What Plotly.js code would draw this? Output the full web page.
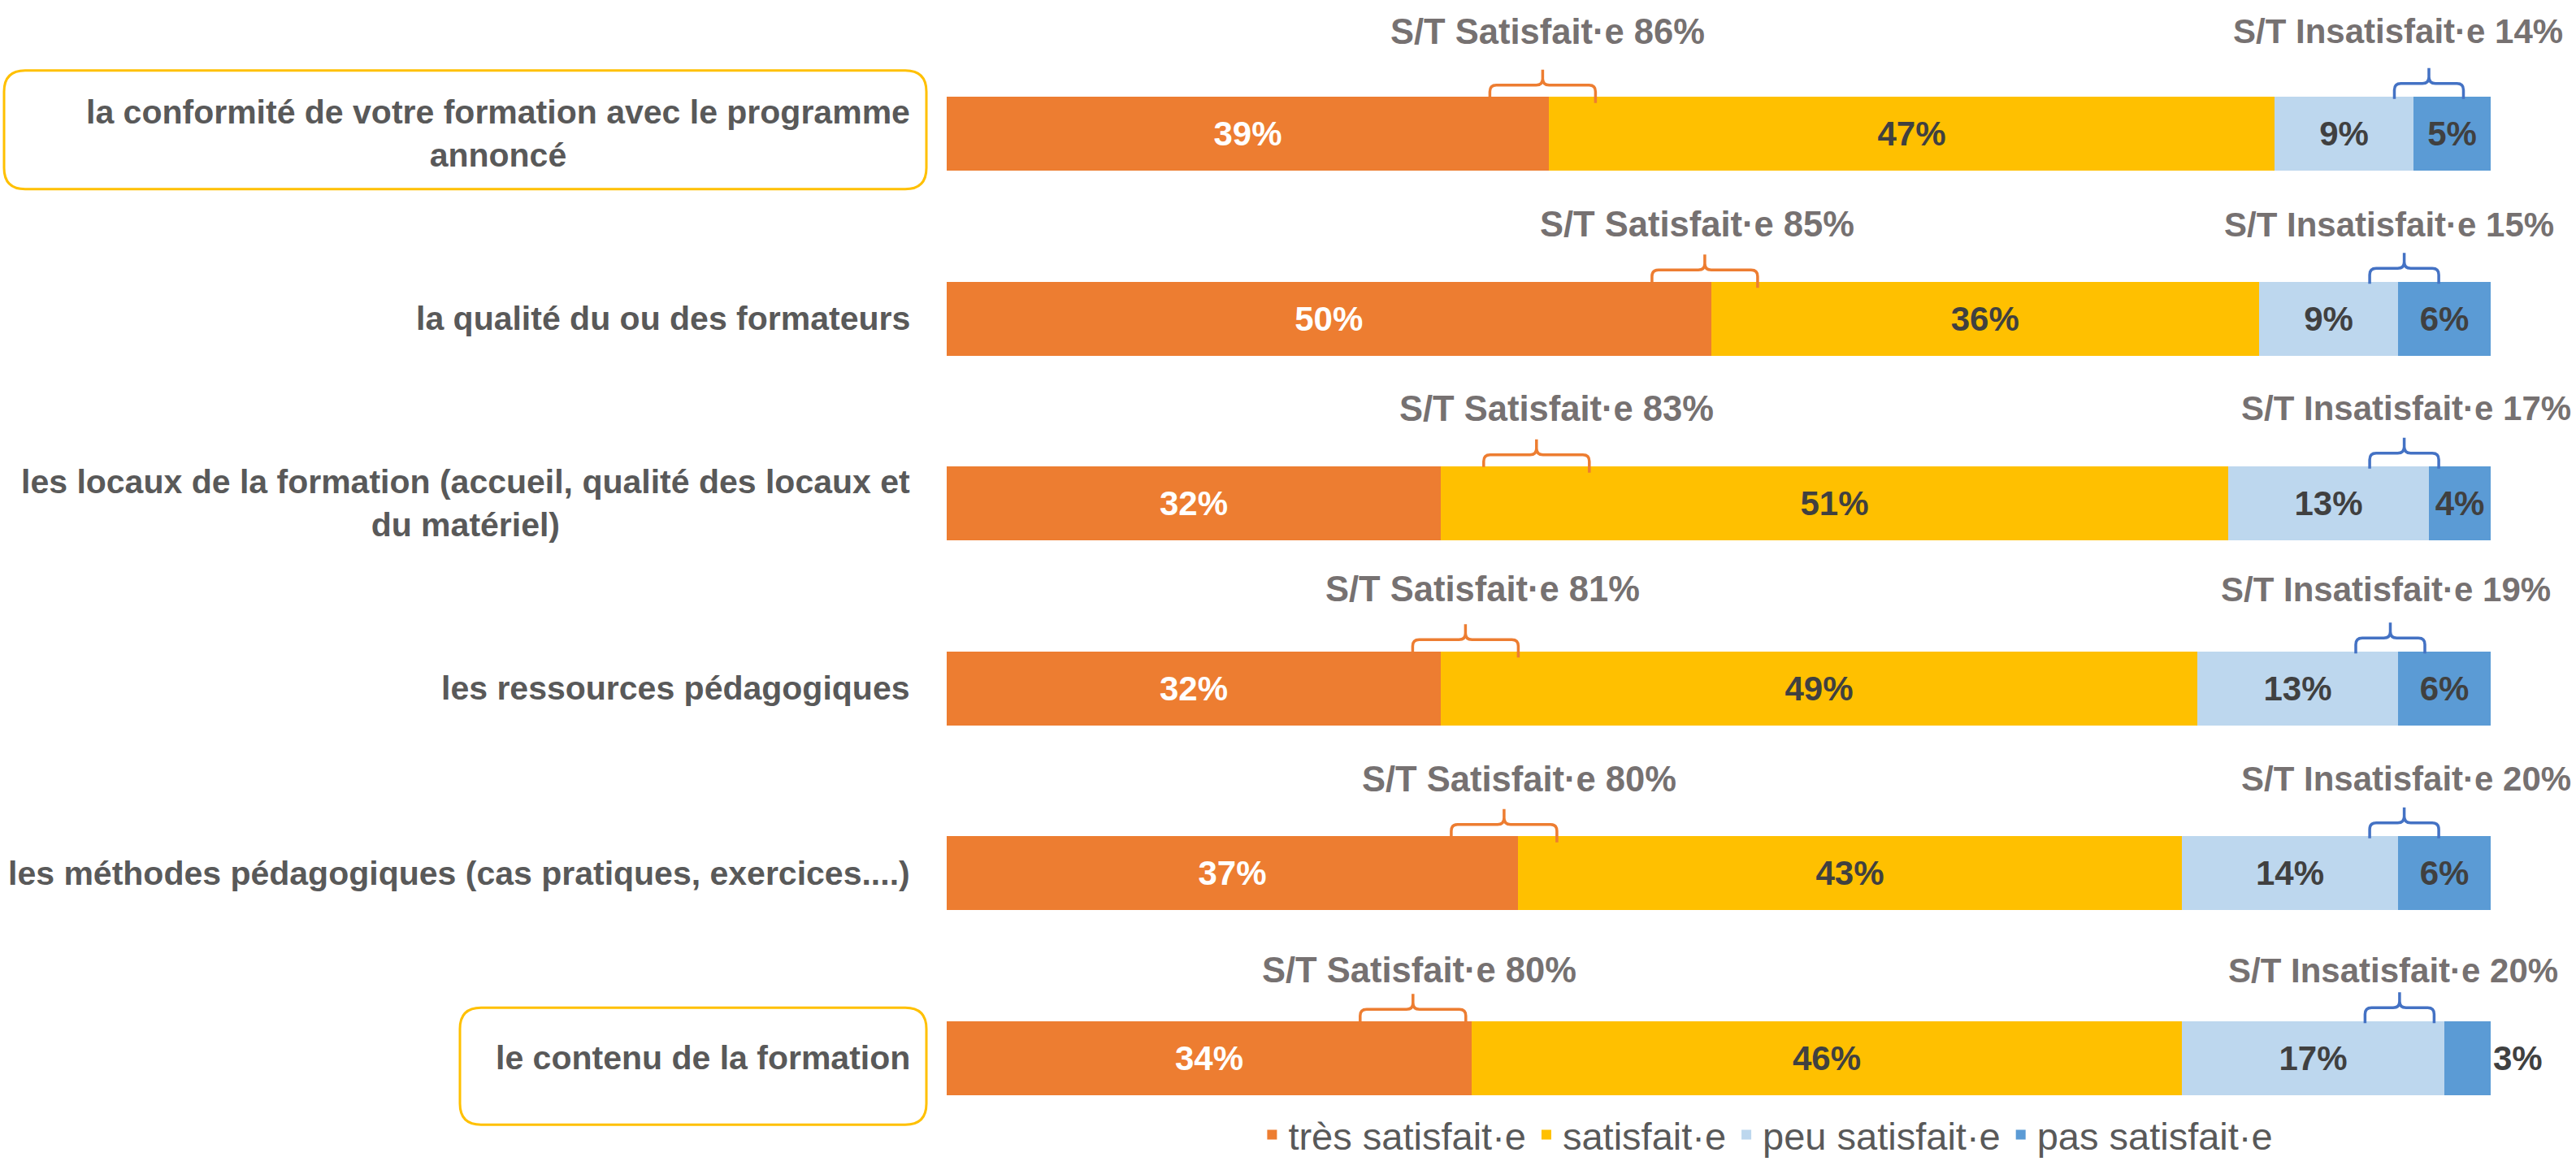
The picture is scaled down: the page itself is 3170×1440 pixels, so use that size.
<!DOCTYPE html>
<html>
<head>
<meta charset="utf-8">
<script src="https://cdn.plot.ly/plotly-3.0.1.min.js"></script>
<style>
  html, body { margin: 0; padding: 0; background: #ffffff; }
  #chart { width: 3170px; height: 1440px; }
</style>
</head>
<body>
<div id="chart"></div>
<script>
// ---------- DATA ----------
const categories = [
  "la conformité de votre formation avec le programme annoncé",
  "la qualité du ou des formateurs",
  "les locaux de la formation (accueil, qualité des locaux et du matériel)",
  "les ressources pédagogiques",
  "les méthodes pédagogiques (cas pratiques, exercices....)",
  "le contenu de la formation"
];
const categoryLabels = [
  "la conformité de votre formation avec le programme<br>annoncé",
  "la qualité du ou des formateurs",
  "les locaux de la formation (accueil, qualité des locaux et<br>du matériel)",
  "les ressources pédagogiques",
  "les méthodes pédagogiques (cas pratiques, exercices....)",
  "le contenu de la formation"
];
const seriesNames = ["très satisfait·e", "satisfait·e", "peu satisfait·e", "pas satisfait·e"];
const tresSatisfait = [39, 49.5, 32, 32, 37, 34];
const satisfait     = [47, 35.5, 51, 49, 43, 46];
const peuSatisfait  = [9, 9, 13, 13, 14, 17];
const pasSatisfait  = [5, 6, 4, 6, 6, 3];
const highlighted   = [0, 5];   // rows with a framed label

// ---------- STYLE / LAYOUT HELPERS ----------
const FONT = "'Liberation Sans', Arial, sans-serif";
const colors = ["#ED7D31", "#FFC000", "#BDD7EE", "#5B9BD5"];
const labelColors = ["#FFFFFF", "#404040", "#404040", "#404040"];
// annotation anchor positions (axis units) for the summary labels and braces
const satLabelX   = [38.9, 48.6, 39.5, 34.7, 37.1, 30.6];
const satBraceX   = [38.6, 49.1, 38.2, 33.6, 36.1, 30.2];
const insatLabelX = [94.0, 93.4, 94.5, 93.2, 94.5, 93.7];
const insatBraceX = [96.0, 94.4, 94.4, 93.5, 94.4, 94.1];
const summaryShift = [126, 116, 117, 122, 116, 108];   // px above bar centre

const series = [tresSatisfait, satisfait, peuSatisfait, pasSatisfait];

const traces = series.map((vals, k) => {
  const tp = vals.map((v, i) => (k === 3 && v < 3.5) ? "outside" : "inside");
  return {
    type: "bar",
    orientation: "h",
    name: seriesNames[k],
    x: vals,
    y: categories,
    marker: { color: colors[k], line: { width: 0 } },
    texttemplate: "%{x:.0f}%",
    textposition: tp,
    insidetextanchor: "middle",
    textangle: 0,
    constraintext: "none",
    cliponaxis: false,
    textfont: { family: FONT, size: 42, color: labelColors[k], weight: "bold" },
    insidetextfont: { family: FONT, size: 42, color: labelColors[k], weight: "bold" },
    outsidetextfont: { family: FONT, size: 42, color: "#404040", weight: "bold" },
    hoverinfo: "skip"
  };
});

const annotations = [];
const shapes = [];

categories.forEach((c, i) => {
  // category label
  annotations.push({
    xref: "paper", yref: "y", x: -0.0226, y: i,
    xanchor: "right", yanchor: "middle", align: "center",
    text: categoryLabels[i], showarrow: false,
    font: { family: FONT, size: 41, color: "#595959", weight: "bold" }
  });
  const satTot = Math.round(tresSatisfait[i] + satisfait[i]);
  const insTot = Math.round(peuSatisfait[i] + pasSatisfait[i]);
  annotations.push({
    xref: "x", yref: "y", x: satLabelX[i], y: i, yshift: summaryShift[i],
    xanchor: "center", yanchor: "middle",
    text: "S/T Satisfait·e " + satTot + "%", showarrow: false,
    font: { family: FONT, size: 43.5, color: "#767171", weight: "bold" }
  });
  annotations.push({
    xref: "x", yref: "y", x: insatLabelX[i], y: i, yshift: summaryShift[i],
    xanchor: "center", yanchor: "middle",
    text: "S/T Insatisfait·e " + insTot + "%", showarrow: false,
    font: { family: FONT, size: 42, color: "#767171", weight: "bold" }
  });
  // braces (pixel-sized, anchored on data)
  const brace = (w, top, mid, tipL, tipR) => {
    const h = w / 2, r = 8;
    return `M${-h},${tipL} L${-h},${mid - r} Q${-h},${mid} ${-h + r},${mid} L${-r},${mid} Q0,${mid} 0,${mid + r} L0,${top} ` +
           `M0,${mid + r} Q0,${mid} ${r},${mid} L${h - r},${mid} Q${h},${mid} ${h},${mid - r} L${h},${tipR}`;
  };
  shapes.push({
    type: "path", xref: "x", yref: "y",
    xsizemode: "pixel", ysizemode: "pixel",
    xanchor: satBraceX[i], yanchor: i,
    path: brace(130, 79, 60, 45, 38),
    line: { color: "#ED7D31", width: 3.5 }
  });
  shapes.push({
    type: "path", xref: "x", yref: "y",
    xsizemode: "pixel", ysizemode: "pixel",
    xanchor: insatBraceX[i], yanchor: i,
    path: brace(85, 81, 62, 43, 43),
    line: { color: "#4472C4", width: 3.5 }
  });
});

// rounded frames around highlighted labels
const roundRect = (x0, x1, y0, y1, r) =>
  `M${x0 + r},${y1} L${x1 - r},${y1} Q${x1},${y1} ${x1},${y1 - r} L${x1},${y0 + r} Q${x1},${y0} ${x1 - r},${y0} ` +
  `L${x0 + r},${y0} Q${x0},${y0} ${x0},${y0 + r} L${x0},${y1 - r} Q${x0},${y1} ${x0 + r},${y1} Z`;
const frameGeom = { 0: [-1160, -25, -68, 78], 5: [-599, -25, -82, 62] };
highlighted.forEach(i => {
  const g = frameGeom[i];
  shapes.push({
    type: "path", xref: "paper", yref: "y",
    xsizemode: "pixel", ysizemode: "pixel",
    xanchor: 0, yanchor: i,
    path: roundRect(g[0], g[1], g[2], g[3], 26),
    line: { color: "#FFC000", width: 3 },
    fillcolor: "rgba(0,0,0,0)"
  });
});

const layout = {
  width: 3170, height: 1440,
  paper_bgcolor: "#ffffff", plot_bgcolor: "#ffffff",
  margin: { l: 1165, r: 105, t: 51, b: 24, autoexpand: false },
  barmode: "stack",
  bargap: 0.6,
  showlegend: true,
  legend: {
    orientation: "h", x: 0.531, xanchor: "center", y: 0.014, yanchor: "middle",
    font: { family: FONT, size: 47, color: "#595959" },
    bgcolor: "rgba(0,0,0,0)", traceorder: "normal", itemwidth: 30
  },
  xaxis: { range: [0, 100], visible: false, fixedrange: true },
  yaxis: {
    type: "category", categoryorder: "array", categoryarray: categories,
    range: [5.5, -0.5], showticklabels: false, showgrid: false, zeroline: false,
    showline: false, ticks: "", fixedrange: true
  },
  annotations: annotations,
  shapes: shapes,
  font: { family: FONT }
};

Plotly.newPlot("chart", traces, layout, { staticPlot: true, displayModeBar: false });
</script>
</body>
</html>
